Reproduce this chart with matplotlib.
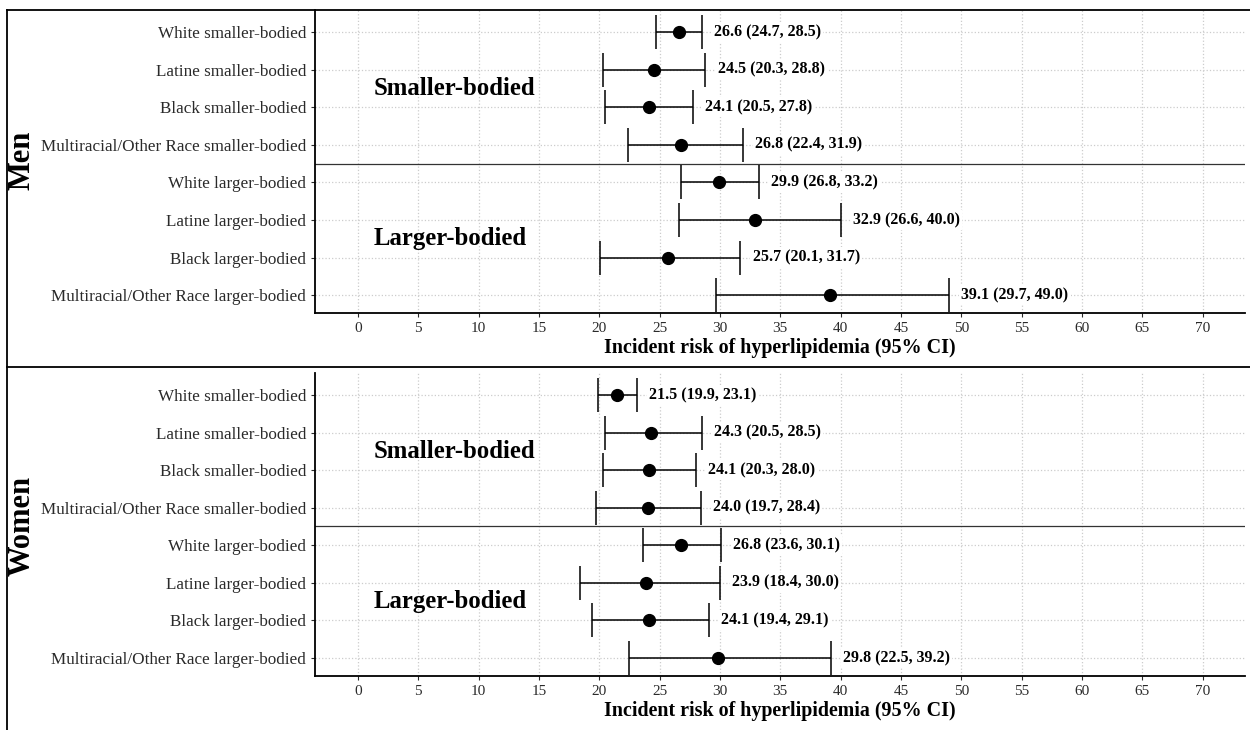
import matplotlib
matplotlib.use("Agg")
import matplotlib.pyplot as plt
from matplotlib.lines import Line2D

plt.rcParams['font.family'] = ['Liberation Serif', 'DejaVu Serif']

labels = ["White smaller-bodied", "Latine smaller-bodied", "Black smaller-bodied",
          "Multiracial/Other Race smaller-bodied", "White larger-bodied",
          "Latine larger-bodied", "Black larger-bodied",
          "Multiracial/Other Race larger-bodied"]

men_est = [26.6, 24.5, 24.1, 26.8, 29.9, 32.9, 25.7, 39.1]
men_lo = [24.7, 20.3, 20.5, 22.4, 26.8, 26.6, 20.1, 29.7]
men_hi = [28.5, 28.8, 27.8, 31.9, 33.2, 40.0, 31.7, 49.0]

women_est = [21.5, 24.3, 24.1, 24.0, 26.8, 23.9, 24.1, 29.8]
women_lo = [19.9, 20.5, 20.3, 19.7, 23.6, 18.4, 19.4, 22.5]
women_hi = [23.1, 28.5, 28.0, 28.4, 30.1, 30.0, 29.1, 39.2]

xticks = list(range(0, 75, 5))
xlabel = "Incident risk of hyperlipidemia (95% CI)"

fig = plt.figure(figsize=(12.5, 7.3), dpi=100)


def forest(ax, est, lo, hi):
    n = len(est)
    ys = list(range(n, 0, -1))
    err = [[e - l for e, l in zip(est, lo)], [h - e for e, h in zip(est, hi)]]
    ax.errorbar(est, ys, xerr=err, fmt='o', color='black', ms=8.5,
                elinewidth=1.1, capsize=12, capthick=1.1, zorder=3)
    for y, e, l, h in zip(ys, est, lo, hi):
        ax.text(h + 1.0, y, f"{e:.1f} ({l:.1f}, {h:.1f})", va='center', ha='left',
                fontsize=11.5, fontweight='bold',
                bbox=dict(facecolor='white', edgecolor='none', pad=1.5), zorder=4)
    ax.axhline(4.5, color='#333333', lw=0.9, zorder=2)
    ax.text(1.3, 6.5, "Smaller-bodied", fontsize=17.8, fontweight='bold', va='center', ha='left')
    ax.text(1.3, 2.5, "Larger-bodied", fontsize=17.8, fontweight='bold', va='center', ha='left')

    ax.set_xlim(-3.55, 73.5)
    ax.set_ylim(0.52, 8.585)
    ax.set_xticks(xticks)
    ax.set_yticks(ys)
    ax.set_yticklabels(labels)
    ax.tick_params(axis='y', labelsize=12.3, length=3, width=0.8, colors='#2a2a2a')
    ax.tick_params(axis='x', labelsize=11, length=3, width=0.8, colors='#2a2a2a')
    ax.grid(True, linestyle=':', color='#cccccc', lw=0.9)
    ax.set_axisbelow(True)
    for s in ['top', 'right']:
        ax.spines[s].set_visible(False)
    for s in ['left', 'bottom']:
        ax.spines[s].set_linewidth(1.3)
    ax.set_xlabel(xlabel, fontsize=14.4, fontweight='bold', labelpad=2)


ax1 = fig.add_axes([0.252, 0.571, 0.744, 0.415])
forest(ax1, men_est, men_lo, men_hi)
ax2 = fig.add_axes([0.252, 0.074, 0.744, 0.415])
forest(ax2, women_est, women_lo, women_hi)

fig.text(0.018, 0.78, "Men", rotation=90, fontsize=22, fontweight='bold', va='center', ha='center')
fig.text(0.018, 0.28, "Women", rotation=90, fontsize=22, fontweight='bold', va='center', ha='center')

# frame lines
top_y = 1 - 10 / 730
mid_y = 1 - 367 / 730
left_x = 7 / 1250
fig.add_artist(Line2D([left_x, 1], [top_y, top_y], color='black', lw=1.3))
fig.add_artist(Line2D([left_x, 1], [mid_y, mid_y], color='black', lw=1.3))
fig.add_artist(Line2D([left_x, left_x], [0, top_y], color='black', lw=1.3))

fig.savefig("out.png", dpi=100)
